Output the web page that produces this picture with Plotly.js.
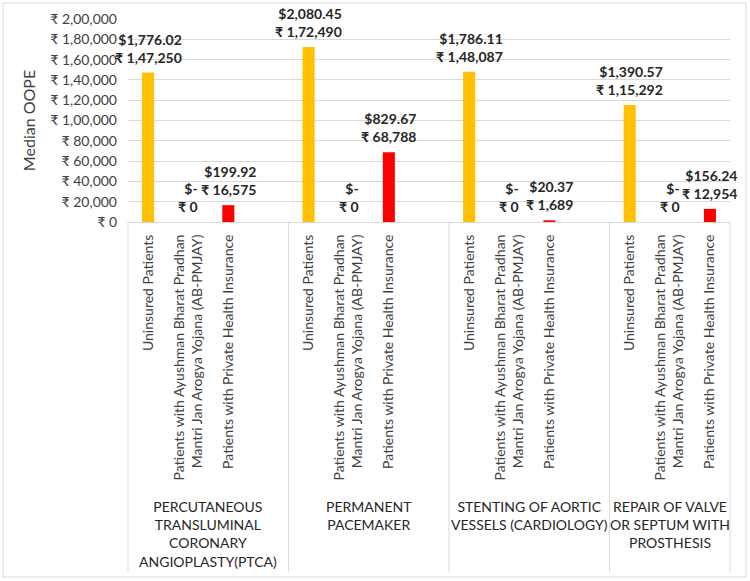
<!DOCTYPE html>
<html>
<head>
<meta charset="utf-8">
<script src="https://cdn.plot.ly/plotly-3.0.1.min.js"></script>
<style>html,body{margin:0;padding:0;background:#fff;}#chart{width:750px;height:581px;}</style>
</head>
<body>
<div id="chart"></div>
<script>
// ---- data ----
var procedures = [
  "PERCUTANEOUS<br>TRANSLUMINAL<br>CORONARY<br>ANGIOPLASTY(PTCA)",
  "PERMANENT<br>PACEMAKER",
  "STENTING OF AORTIC<br>VESSELS (CARDIOLOGY)",
  "REPAIR OF VALVE<br>OR SEPTUM WITH<br>PROSTHESIS"
];
var patientTypes = [
  "Uninsured Patients",
  "Patients with Ayushman Bharat Pradhan<br>Mantri Jan Arogya Yojana (AB-PMJAY)",
  "Patients with Private Health Insurance"
];
var uninsuredINR = [147250, 172490, 148087, 115292];
var abpmjayINR   = [0, 0, 0, 0];
var privateINR   = [16575, 68788, 1689, 12954];
var uninsuredUSD = [1776.02, 2080.45, 1786.11, 1390.57];
var abpmjayUSD   = [0, 0, 0, 0];
var privateUSD   = [199.92, 829.67, 20.37, 156.24];
var seriesColors = ["#FFC000", "#FFC000", "#FF0000"];
var yTickVals = [0, 20000, 40000, 60000, 80000, 100000, 120000, 140000, 160000, 180000, 200000];
var yTickLabels = ["₹ 0", "₹ 20,000", "₹ 40,000", "₹ 60,000", "₹ 80,000", "₹ 1,00,000",
                   "₹ 1,20,000", "₹ 1,40,000", "₹ 1,60,000", "₹ 1,80,000", "₹ 2,00,000"];
var yTitle = "Median OOPE";

// ---- helpers ----
function inr(n) {
  var s = Math.round(n).toString();
  if (s.length <= 3) return s;
  var last3 = s.slice(-3), rest = s.slice(0, -3);
  rest = rest.replace(/\B(?=(\d{2})+(?!\d))/g, ",");
  return rest + "," + last3;
}
function usd(v) {
  if (v === 0) return "$-";
  return "$" + v.toLocaleString("en-US", {minimumFractionDigits: 2, maximumFractionDigits: 2});
}

var INR = [uninsuredINR, abpmjayINR, privateINR];
var USD = [uninsuredUSD, abpmjayUSD, privateUSD];
var slotsPerGroup = patientTypes.length + 1; // blank slot between groups
var nSlots = procedures.length * slotsPerGroup - 1;

var W = 750, H = 581;
var M = {l: 128, r: 20, t: 19, b: 359};
var pw = W - M.l - M.r, ph = H - M.t - M.b;
function px2paperX(px) { return (px - M.l) / pw; }
function px2paperY(py) { return (H - M.b - py) / ph; }

var traces = [];
var tickvals = [], ticktext = [];
var annotations = [];
var textFont = "Lato, 'Noto Sans', sans-serif";

for (var k = 0; k < patientTypes.length; k++) {
  var xs = [], ys = [];
  for (var g = 0; g < procedures.length; g++) {
    var xpos = g * slotsPerGroup + k;
    xs.push(xpos); ys.push(INR[k][g]);
    tickvals.push(xpos); ticktext.push(patientTypes[k]);
    annotations.push({
      x: xpos, y: INR[k][g], xref: "x", yref: "y",
      text: usd(USD[k][g]) + "<br>₹ " + inr(INR[k][g]),
      showarrow: false, yanchor: "bottom", xanchor: "center", align: "right",
      yshift: 5,
      font: {family: textFont, size: 14, color: "#262626", weight: "bold"}
    });
  }
  traces.push({
    type: "bar", x: xs, y: ys, width: 0.3,
    marker: {color: seriesColors[k]},
    hoverinfo: "skip", showlegend: false
  });
}

// group separators and labels
var shapes = [];
var sepBottom = px2paperY(572);
for (var g = 0; g <= procedures.length; g++) {
  var sx = Math.min(g * slotsPerGroup, nSlots);
  var px = px2paperX(M.l + sx / nSlots * pw);
  shapes.push({type: "line", xref: "paper", yref: "paper", x0: px, x1: px,
               y0: 0, y1: sepBottom, line: {color: "#D9D9D9", width: 1}});
}
for (var g = 0; g < procedures.length; g++) {
  var a = g * slotsPerGroup, b = Math.min((g + 1) * slotsPerGroup, nSlots);
  var cx = ((a + b) / 2) / nSlots;
  annotations.push({
    x: cx, y: px2paperY(496), xref: "paper", yref: "paper",
    text: procedures[g], showarrow: false, xanchor: "center", yanchor: "top",
    align: "center", font: {family: textFont, size: 14, color: "#262626"}
  });
}
// chart outer border
shapes.push({type: "rect", xref: "paper", yref: "paper",
  x0: px2paperX(3), x1: px2paperX(746), y0: px2paperY(577), y1: px2paperY(3),
  line: {color: "#D9D9D9", width: 1}, fillcolor: "rgba(0,0,0,0)"});

var layout = {
  width: W, height: H,
  margin: M,
  paper_bgcolor: "#fff", plot_bgcolor: "#fff",
  showlegend: false,
  xaxis: {
    range: [-0.5, nSlots - 0.5],
    tickmode: "array", tickvals: tickvals, ticktext: ticktext,
    tickangle: -90, ticks: "", showgrid: false, zeroline: false,
    showline: true, linecolor: "#D9D9D9", linewidth: 1,
    ticklabelstandoff: 6,
    tickfont: {family: textFont, size: 14, color: "#404040"}
  },
  yaxis: {
    range: [0, 200000], tickmode: "array", tickvals: yTickVals, ticktext: yTickLabels,
    showgrid: true, gridcolor: "#D9D9D9", gridwidth: 1, zeroline: false,
    ticks: "", ticklabelstandoff: 10,
    tickfont: {family: textFont, size: 14, color: "#404040"},
    title: {text: yTitle, standoff: 10, font: {family: textFont, size: 16, color: "#404040"}}
  },
  shapes: shapes,
  annotations: annotations
};

Plotly.newPlot("chart", traces, layout, {displayModeBar: false, staticPlot: true});
</script>
</body>
</html>
